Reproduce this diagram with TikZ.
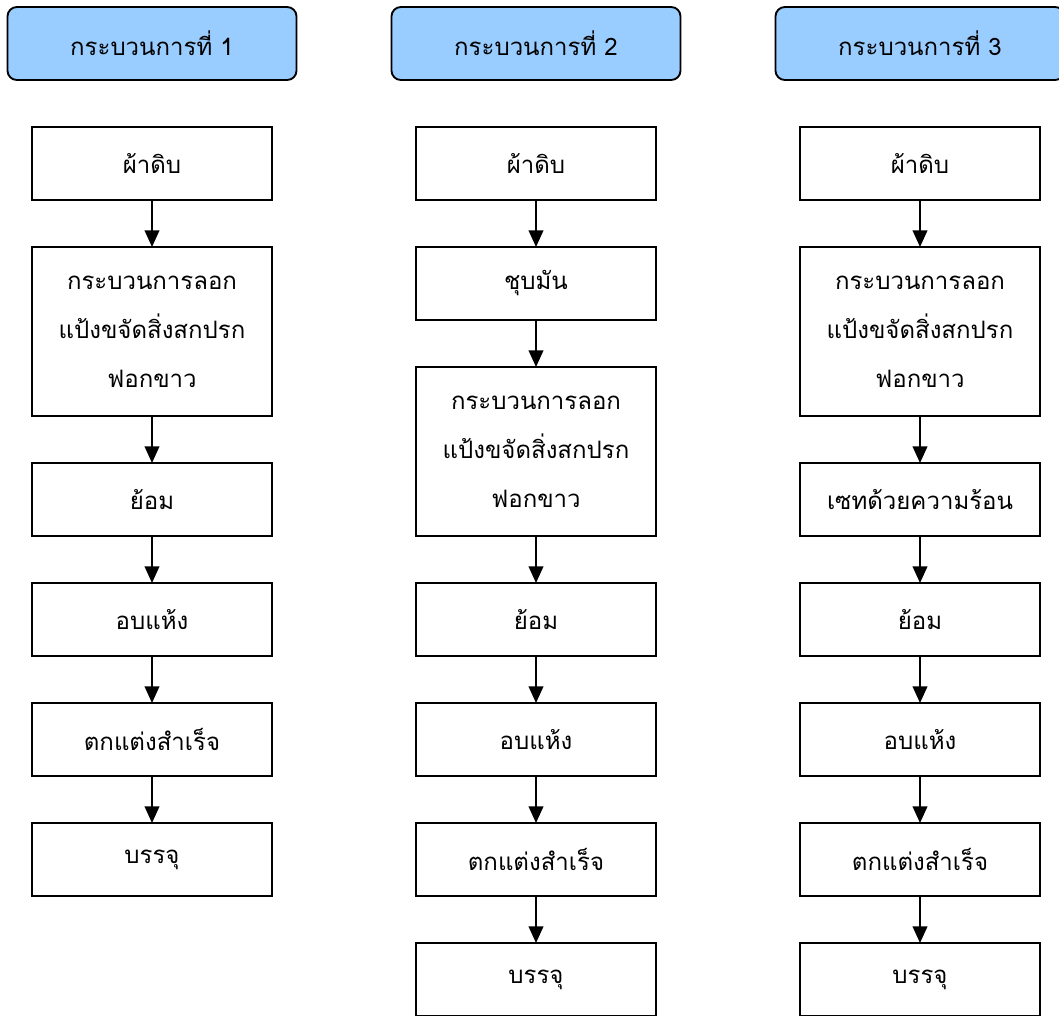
\documentclass[tikz,border=0pt]{standalone}
\usepackage{fontspec}
\newfontfamily\thaifont[Script=Thai]{Loma}
\usetikzlibrary{positioning, arrows.meta}
\definecolor{headblue}{HTML}{99CCFF}

\tikzset{
  stepbox/.style={draw, line width=1.4pt, outer sep=0pt, minimum width=180pt,
    minimum height=54.75pt, inner sep=0pt, align=center,
    font=\thaifont\fontsize{18}{36.75}\selectfont},
  tallbox/.style={stepbox, minimum height=126.75pt},
  headbox/.style={draw, fill=headblue, rounded corners=7pt, line width=1.4pt,
    outer sep=0pt, minimum width=216.75pt, minimum height=54.75pt, inner sep=0pt,
    font=\thaifont\fontsize{18}{20}\selectfont},
  flow/.style={line width=1.4pt, -{Triangle[width=11pt,length=12.5pt]}}
}

\begin{document}
\begin{tikzpicture}[x=0.75pt, y=-0.75pt, node distance=35.25pt]
\useasboundingbox (0,0) rectangle (1059,1015);

% process 1
\node[headbox] (h1) at (152,43.5) {กระบวนการที่ 1};
\node[stepbox] (a1) at (152,163.5) {ผ้าดิบ};
\node[tallbox, below=of a1] (a2) {กระบวนการลอก\\แป้งขจัดสิ่งสกปรก\\ฟอกขาว};
\node[stepbox, below=of a2] (a3) {ย้อม};
\node[stepbox, below=of a3] (a4) {อบแห้ง};
\node[stepbox, below=of a4] (a5) {ตกแต่งสำเร็จ};
\node[stepbox, below=of a5] (a6) {บรรจุ};

% process 2
\node[headbox] (h2) at (536,43.5) {กระบวนการที่ 2};
\node[stepbox] (b1) at (536,163.5) {ผ้าดิบ};
\node[stepbox, below=of b1] (b2) {ชุบมัน};
\node[tallbox, below=of b2] (b3) {กระบวนการลอก\\แป้งขจัดสิ่งสกปรก\\ฟอกขาว};
\node[stepbox, below=of b3] (b4) {ย้อม};
\node[stepbox, below=of b4] (b5) {อบแห้ง};
\node[stepbox, below=of b5] (b6) {ตกแต่งสำเร็จ};
\node[stepbox, below=of b6] (b7) {บรรจุ};

% process 3
\node[headbox] (h3) at (920,43.5) {กระบวนการที่ 3};
\node[stepbox] (c1) at (920,163.5) {ผ้าดิบ};
\node[tallbox, below=of c1] (c2) {กระบวนการลอก\\แป้งขจัดสิ่งสกปรก\\ฟอกขาว};
\node[stepbox, below=of c2] (c3) {เซทด้วยความร้อน};
\node[stepbox, below=of c3] (c4) {ย้อม};
\node[stepbox, below=of c4] (c5) {อบแห้ง};
\node[stepbox, below=of c5] (c6) {ตกแต่งสำเร็จ};
\node[stepbox, below=of c6] (c7) {บรรจุ};

\foreach \u/\v in {a1/a2,a2/a3,a3/a4,a4/a5,a5/a6,
                   b1/b2,b2/b3,b3/b4,b4/b5,b5/b6,b6/b7,
                   c1/c2,c2/c3,c3/c4,c4/c5,c5/c6,c6/c7}
  \draw[flow] (\u) -- (\v);
\end{tikzpicture}
\end{document}
